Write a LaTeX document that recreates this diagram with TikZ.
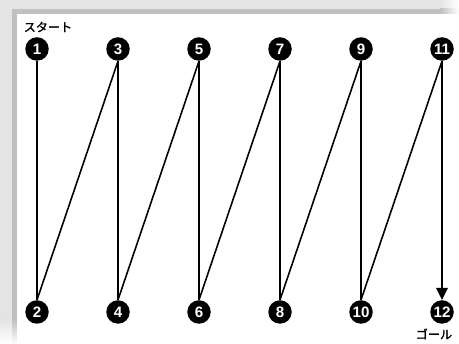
\documentclass[tikz,border=0pt]{standalone}
\usepackage{fontspec}
\setmainfont{Liberation Sans}
\newfontfamily\jpfont[FakeBold=1.2]{Noto Sans CJK JP}
\usepackage{tikz}
\usetikzlibrary{arrows.meta,positioning}
\tikzset{
  numdot/.style={circle, fill=black, text=white, inner sep=0pt, minimum size=0.47cm, font=\fontsize{8.6}{9}\selectfont\bfseries},
  zigln/.style={line width=0.9pt, black},
  goalln/.style={-{Triangle[length=2.4mm,width=2.3mm]}, line width=0.9pt, black},
  lbl/.style={font=\jpfont\fontsize{6.9}{7}\selectfont, inner sep=0pt},
}
\definecolor{shadelight}{RGB}{228,228,228}
\definecolor{shadedark}{RGB}{192,192,192}

\begin{document}
\begin{tikzpicture}
    \useasboundingbox (0,0) rectangle (9.18,6.88);
    % frame shadow
    \fill[shadelight] (0,0.48) rectangle (8.80,6.88);
    \shade[left color=shadelight, right color=white] (8.80,6.60) rectangle (9.18,6.88);
    \shade[top color=shadelight, bottom color=white] (0,0) rectangle (0.34,0.48);
    \fill[shadedark] (0.24,0.48) rectangle (8.80,6.70);
    \shade[left color=shadedark, right color=white] (8.80,6.60) rectangle (9.18,6.70);
    \shade[top color=shadedark, bottom color=white] (0.24,0) rectangle (0.34,0.48);
    \fill[white] (0.34,0) rectangle (9.18,6.60);
    % top row
    \node[numdot] (n1) at (0.74,5.90) {1};
    \node[numdot] (n3) at (2.36,5.90) {3};
    \node[numdot] (n5) at (3.98,5.90) {5};
    \node[numdot] (n7) at (5.60,5.90) {7};
    \node[numdot] (n9) at (7.22,5.90) {9};
    \node[numdot] (n11) at (8.84,5.90) {11};
    % bottom row
    \node[numdot] (n2) at (0.74,0.64) {2};
    \node[numdot] (n4) at (2.36,0.64) {4};
    \node[numdot] (n6) at (3.98,0.64) {6};
    \node[numdot] (n8) at (5.60,0.64) {8};
    \node[numdot] (n10) at (7.22,0.64) {10};
    \node[numdot] (n12) at (8.84,0.64) {12};
    % labels
    \node[lbl] (start) at (0.96,6.34) {スタート};
    \node[lbl] (goal) at (8.68,0.20) {ゴール};
    % path
    \draw[zigln] (n1.south) -- (n2.north);
    \draw[zigln] (n2.north) -- (n3.south);
    \draw[zigln] (n3.south) -- (n4.north);
    \draw[zigln] (n4.north) -- (n5.south);
    \draw[zigln] (n5.south) -- (n6.north);
    \draw[zigln] (n6.north) -- (n7.south);
    \draw[zigln] (n7.south) -- (n8.north);
    \draw[zigln] (n8.north) -- (n9.south);
    \draw[zigln] (n9.south) -- (n10.north);
    \draw[zigln] (n10.north) -- (n11.south);
    \draw[goalln] (n11.south) -- (n12.north);
  \end{tikzpicture}
\end{document}
